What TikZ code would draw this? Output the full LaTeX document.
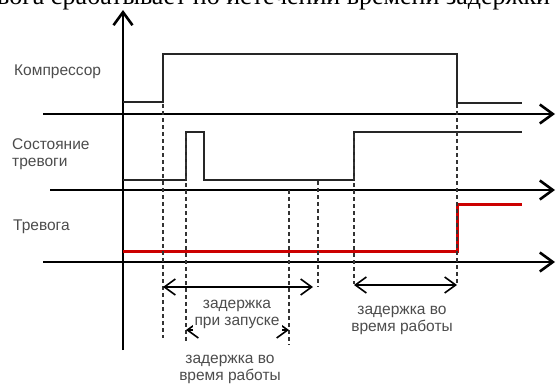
\documentclass[tikz,border=0pt]{standalone}
\usepackage{fontspec}
\setmainfont{Liberation Serif}
\newfontfamily\lblfont{Liberation Sans}
\usetikzlibrary{arrows.meta, positioning}

\begin{document}
\begin{tikzpicture}[x=1pt, y=-1pt, every node/.style={inner sep=0pt},
    axis/.style={line width=2.6pt, -{Straight Barb[length=13pt, width=19pt]}},
    sig/.style={line width=2pt, black!85},
    alarm/.style={line width=3pt, red!80!black},
    guide/.style={line width=1.3pt, dashed, dash pattern=on 4pt off 3pt, black!80},
    span/.style={line width=1.6pt, {Straight Barb[length=11pt, width=16pt]}-{Straight Barb[length=11pt, width=16pt]}},
    lbl/.style={font=\lblfont\fontsize{15.5}{17}\selectfont, text=black!70, align=center}]

    \useasboundingbox (0,0) rectangle (556,385);

    % cut caption line at the top
    \begin{scope}
        \clip (0,0) rectangle (556,385);
        \node[anchor=base west, font=\fontsize{26}{26}\selectfont] (cap) at (-3,5) {вога срабатывает по истечении времени задержки};
    \end{scope}

    % axes
    \coordinate (O) at (123,350);
    \coordinate (T) at (123,10);
    \coordinate (A1) at (43,114);  \coordinate (E1) at (555,114);
    \coordinate (A2) at (50,190);  \coordinate (E2) at (555,190);
    \coordinate (A3) at (43,262);  \coordinate (E3) at (555,262);
    \draw[axis] (O) -- (T);
    \draw[axis] (A1) -- (E1);
    \draw[axis] (A2) -- (E2);
    \draw[axis] (A3) -- (E3);

    % signals
    \draw[sig] (123,102) -- (163,102) -- (163,54) -- (457,54) -- (457,103) -- (522,103);
    \draw[sig] (123,180) -- (186,180) -- (186,132) -- (204,132) -- (204,180)
        -- (354,180) -- (354,132) -- (522,132);
    \draw[alarm] (123,251) -- (457,251) -- (457,204) -- (522,204);

    % labels
    \node[lbl, anchor=west] (comp) at (14,72) {Компрессор};
    \node[lbl, anchor=west, align=left] (state) at (12,154) {Состояние\\тревоги};
    \node[lbl, anchor=west] (alm) at (13,227) {Тревога};

    % time marks
    \draw[guide] (163,104) -- (163,338);
    \draw[guide] (186,134) -- (186,342);
    \draw[guide] (289,190) -- (289,345);
    \draw[guide] (318,181) -- (318,287);
    \draw[guide] (354,134) -- (354,284);
    \draw[guide] (457,104) -- (457,284);

    \coordinate (s1) at (163,287); \coordinate (e1) at (313,287);
    \coordinate (s2) at (354,285); \coordinate (e2) at (457,285);
    \coordinate (s3) at (186,330); \coordinate (e3) at (289,330);
    \draw[span] (s1) -- (e1);
    \draw[span] (s2) -- (e2);
    \draw[span] (s3) -- (e3);

    \node[lbl, fill=white, inner xsep=2pt, inner ysep=3pt] (start) at (237,314) {задержка\\при запуске};
    \node[lbl] (run1) at (402,320) {задержка во\\время работы};
    \node[lbl] (run2) at (230,369) {задержка во\\время работы};
\end{tikzpicture}
\end{document}
